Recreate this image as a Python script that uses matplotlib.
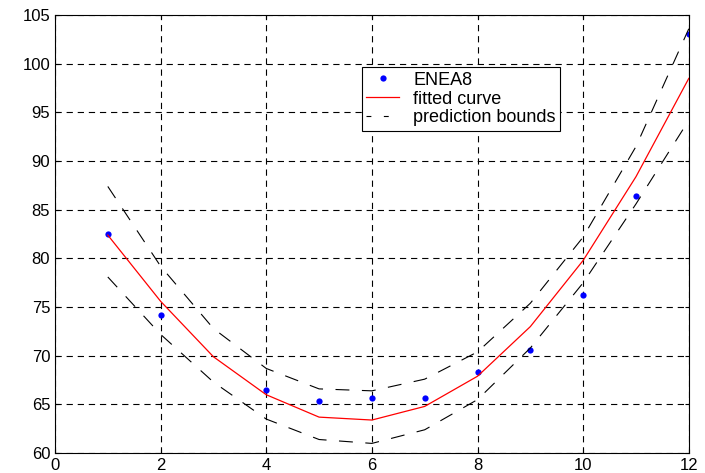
import matplotlib
matplotlib.use("Agg")
import matplotlib.pyplot as plt

plt.rcParams['font.family'] = ['Liberation Sans', 'DejaVu Sans']
plt.rcParams['lines.scale_dashes'] = False

# datos
x_data = [1, 2, 4, 5, 6, 7, 8, 9, 10, 11, 12]
y_data = [82.5, 74.2, 66.5, 65.4, 65.65, 65.65, 68.3, 70.6, 76.2, 86.4, 103.1]

x_fit = [1, 2, 3, 4, 5, 6, 7, 8, 9, 10, 11, 12]
y_fit = [82.4, 75.6, 69.9, 66.0, 63.7, 63.4, 64.8, 67.9, 73.0, 79.8, 88.4, 98.5]
y_upper = [87.4, 79.2, 72.8, 68.7, 66.6, 66.4, 67.6, 70.4, 75.4, 82.2, 91.5, 103.6]
y_lower = [78.1, 72.2, 67.3, 63.5, 61.4, 61.0, 62.4, 65.5, 70.8, 77.5, 85.6, 94.2]

fig = plt.figure(figsize=(7.05, 4.73), dpi=100)
ax = fig.add_axes([0.078, 0.042, 0.899, 0.926])

ax.plot(x_data, y_data, 'o', color='blue', markersize=4.5, markeredgewidth=0, label='ENEA8')
ax.plot(x_fit, y_fit, color='red', linewidth=0.9, label='fitted curve')
ax.plot(x_fit, y_upper, color='black', linewidth=0.8, dashes=(10, 9), label='prediction bounds')
ax.plot(x_fit, y_lower, color='black', linewidth=0.8, dashes=(10, 9))

ax.set_xlim(0, 12)
ax.set_ylim(60, 105)
ax.set_xticks(range(0, 13, 2))
ax.set_yticks(range(60, 106, 5))
ax.grid(True, color='black', linestyle=(0, (4.5, 3.5)), linewidth=0.8)
ax.tick_params(direction='in', top=True, right=True, labelsize=12, length=3)
for s in ax.spines.values():
    s.set_linewidth(0.8)

leg = ax.legend(loc='upper left', bbox_to_anchor=(0.484, 0.881), fontsize=13,
                frameon=True, fancybox=False, edgecolor='black', framealpha=1,
                handlelength=1.8, borderpad=0.25, labelspacing=0.1, handletextpad=0.8,
                borderaxespad=0)
leg.get_frame().set_linewidth(0.8)
leg.legend_handles[2].set_dashes((3.5, 9))

fig.savefig('out.png', dpi=100)
